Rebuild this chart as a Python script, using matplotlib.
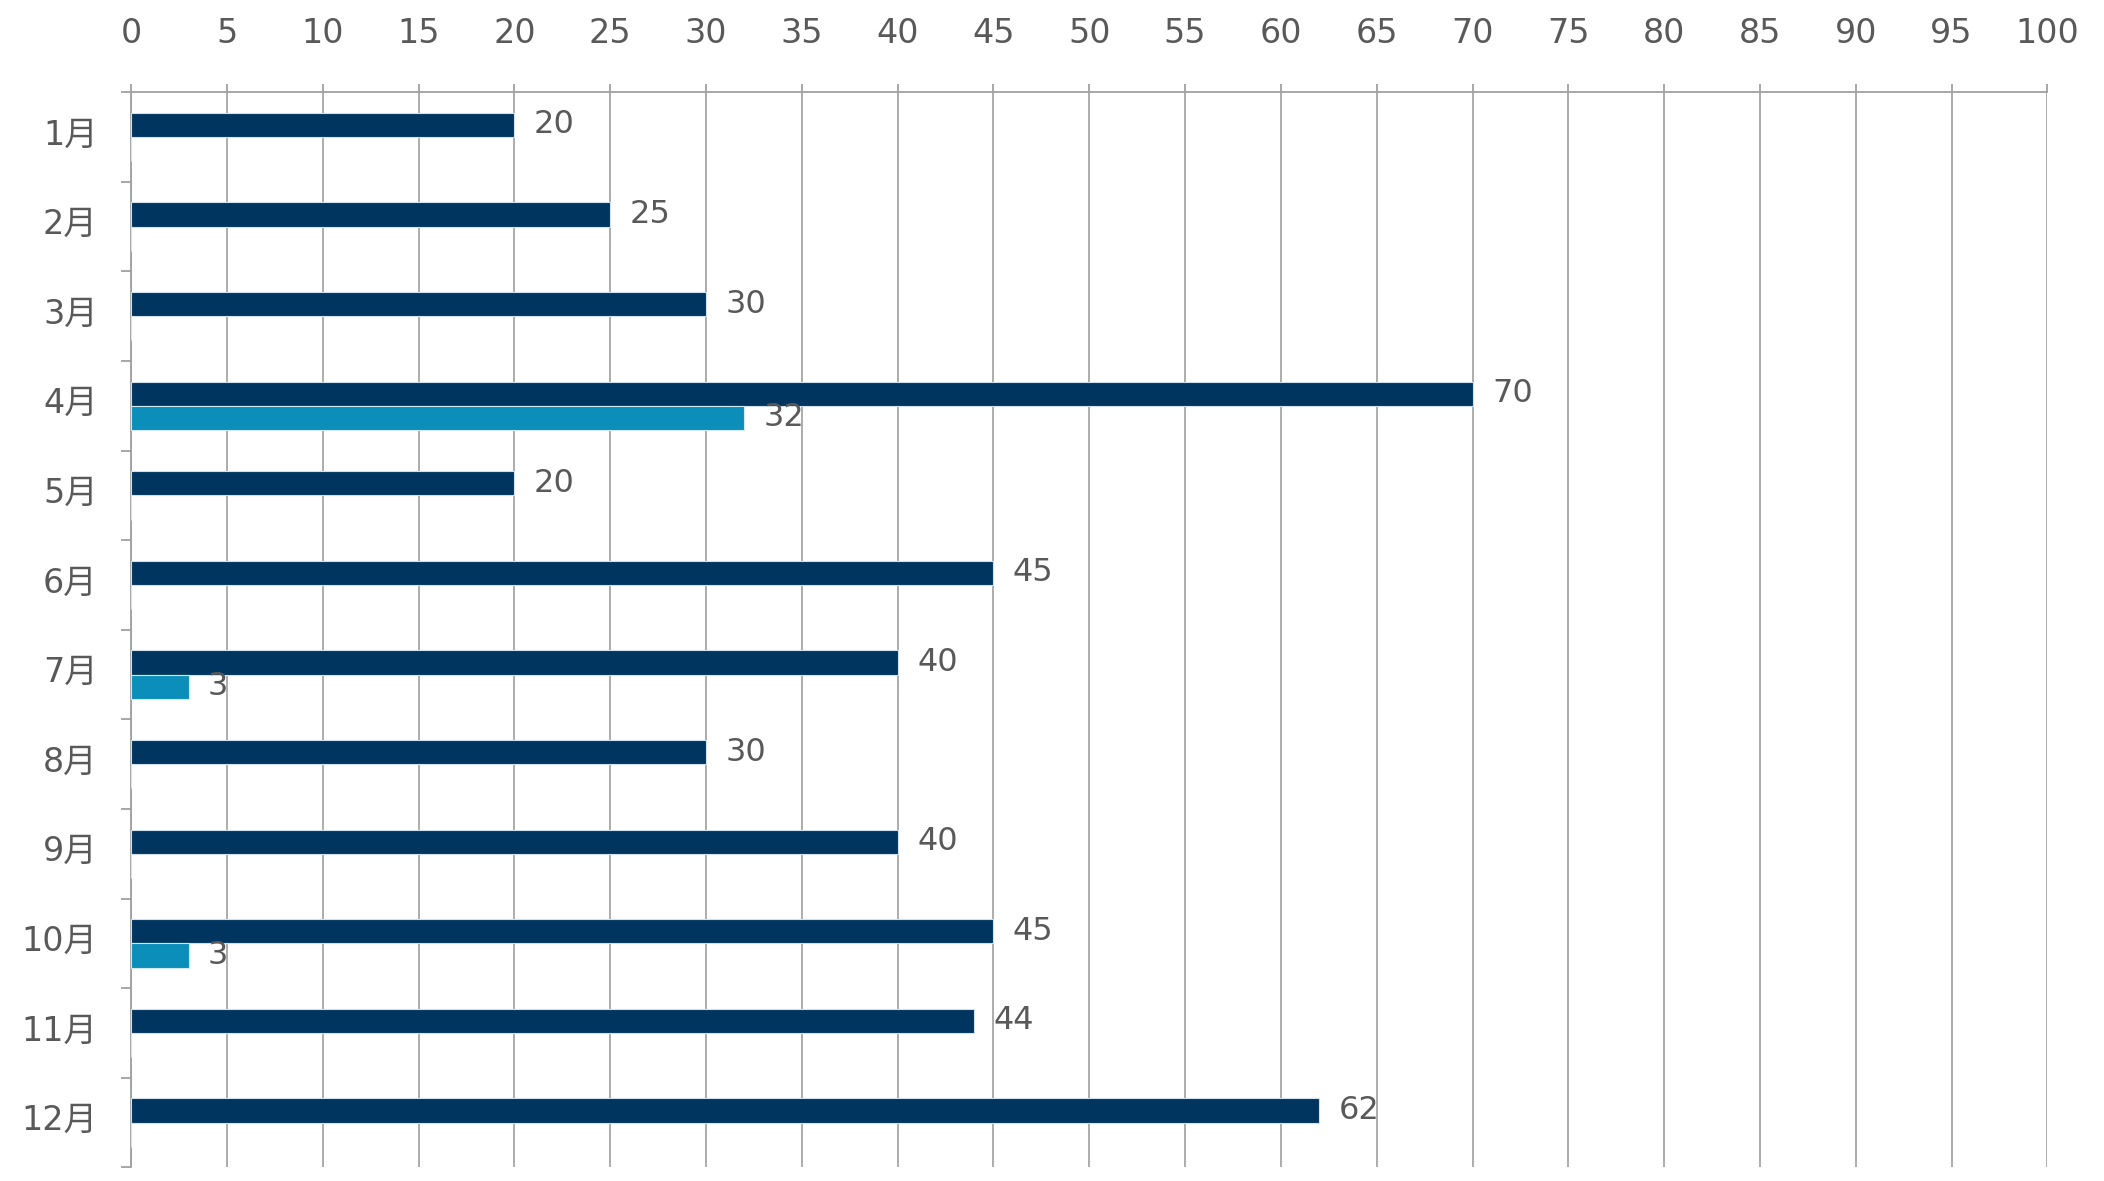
import matplotlib
matplotlib.use("Agg")
import matplotlib.pyplot as plt
import matplotlib.transforms as mtransforms
import numpy as np

months = ["1月", "2月", "3月", "4月", "5月", "6月", "7月", "8月", "9月", "10月", "11月", "12月"]
series_a = [20, 25, 30, 70, 20, 45, 40, 30, 40, 45, 44, 62]
series_b = [0, 0, 0, 32, 0, 0, 3, 0, 0, 3, 0, 0]
x_ticks = list(range(0, 101, 5))

FAM = ["DejaVu Sans", "Noto Sans CJK JP"]
TXT = "#595959"
plt.rcParams["font.family"] = FAM

fig = plt.figure(figsize=(21.04, 11.81), dpi=100)
ax = fig.add_axes([0.0623, 0.0115, 0.9108, 0.9105])

y = np.arange(len(months))
h = 0.27
ax.barh(y - h / 2, series_a, height=h, color="#003560", edgecolor="#d0e0ec", linewidth=0.8, zorder=3)
ax.barh(y + h / 2, series_b, height=h, color="#0B8EBA", edgecolor="#d0e8f0", linewidth=0.8, zorder=3)

for yi, v in zip(y, series_a):
    ax.annotate(str(v), (v, yi - h / 2), xytext=(14, 0), textcoords="offset points",
                va="center", ha="left", fontsize=23, color=TXT, zorder=4)
for yi, v in zip(y, series_b):
    if v:
        ax.annotate(str(v), (v, yi + h / 2), xytext=(14, 0), textcoords="offset points",
                    va="center", ha="left", fontsize=23, color=TXT, zorder=4)

ax.set_xlim(0, 100)
ax.set_ylim(len(months) - 0.5, -0.5)
ax.set_xticks(x_ticks)
ax.xaxis.tick_top()
ax.tick_params(axis="x", which="major", direction="out", length=6, width=1.3, color="#a0a0a0",
               labelsize=24, labelcolor=TXT, pad=24)
ax.set_yticks(y)
ax.set_yticklabels(months)
ax.set_yticks(np.arange(-0.5, len(months), 1.0), minor=True)
ax.tick_params(axis="y", which="major", length=0, labelsize=24, labelcolor=TXT, pad=24)
ax.tick_params(axis="y", which="minor", direction="out", length=7, width=1.3, color="#a0a0a0")
shift = mtransforms.ScaledTranslation(0, 4 / 72, fig.dpi_scale_trans)
for lab in ax.get_yticklabels():
    lab.set_transform(lab.get_transform() + shift)

ax.grid(axis="x", color="#a6a6a6", linewidth=1.3, zorder=0)
ax.set_axisbelow(True)
for s in ["right", "bottom"]:
    ax.spines[s].set_visible(False)
for s in ["top", "left"]:
    ax.spines[s].set_color("#a0a0a0")
    ax.spines[s].set_linewidth(1.3)

fig.savefig("out.png", dpi=100, facecolor="white")
